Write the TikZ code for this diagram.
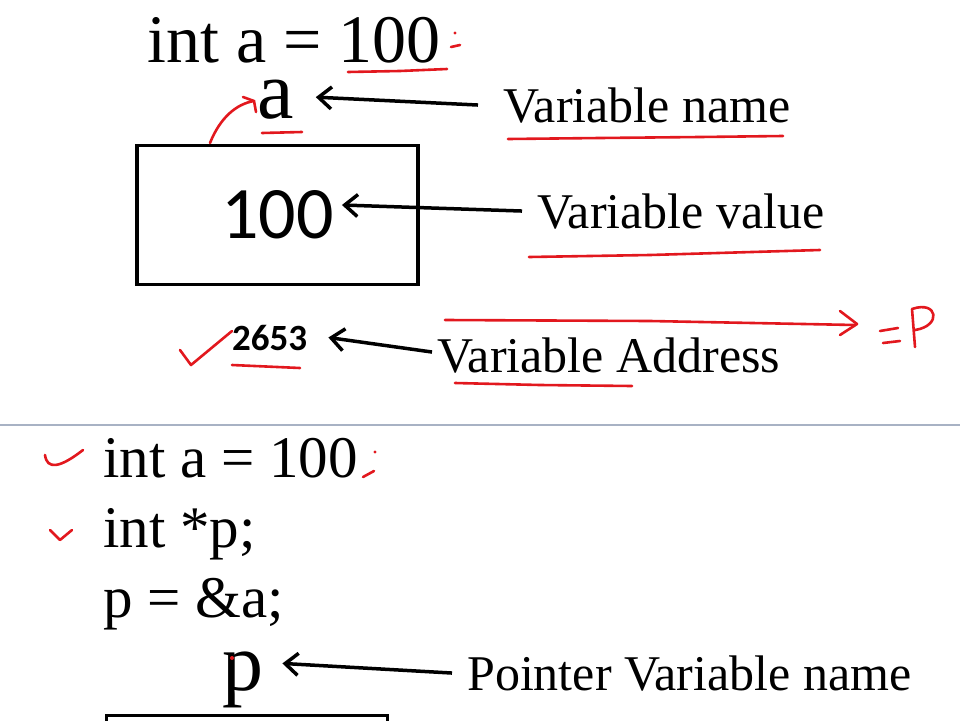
\documentclass[tikz,border=0pt]{standalone}
\usepackage{fontspec}
\setmainfont{Liberation Serif}
\newfontfamily\calibri{Carlito}
\usetikzlibrary{arrows.meta}
\definecolor{penred}{RGB}{226,24,30}
\definecolor{sepgray}{RGB}{168,178,196}

\begin{document}
\begin{tikzpicture}[x=1pt,y=-1pt,
  code/.style={anchor=base west, inner sep=0, font=\fontsize{59}{60}\selectfont},
  bigcode/.style={anchor=base west, inner sep=0, font=\fontsize{68}{70}\selectfont},
  varname/.style={anchor=base west, inner sep=0, font=\fontsize{82}{84}\selectfont},
  caption/.style={anchor=base west, inner sep=0, font=\fontsize{50}{54}\selectfont},
  membox/.style={draw, line width=3.2pt, minimum width=281pt, minimum height=139pt, inner sep=0},
  ptr/.style={line width=3.5pt, -{Straight Barb[length=13pt,width=22pt]}},
  pen/.style={penred, line width=2.6pt, line cap=round, line join=round}]
\useasboundingbox (0,0) rectangle (960,720);
\clip (0,0) rectangle (960,720);

% first half: the variable a
\node[bigcode] (codeA) at (147,62) {int a = 100};
\node[varname] (aname) at (257,118) {a};
\node[membox] (abox) at (277.5,215) {};
\node[inner sep=0, font=\calibri\fontsize{74}{80}\selectfont] (aval) at (abox.center) {100};
\node[inner sep=0, anchor=base west, font=\calibri\bfseries\fontsize{37}{40}\selectfont] (addr) at (232,350) {2653};
\node[caption] (lname) at (503,122) {Variable name};
\node[caption] (lvalue) at (537,228) {Variable value};
\node[caption] (laddr) at (437,372) {Variable Address};

\draw[ptr] ([xshift=-25pt]lname.west) -- ([xshift=22pt,yshift=2pt]aname.east);
\draw[ptr] ([xshift=-15pt]lvalue.west) -- ([xshift=8pt,yshift=10pt]aval.east);
\draw[ptr] ([xshift=-5pt,yshift=3pt]laddr.west) -- ([xshift=21pt]addr.east);

% red pen marks
\draw[pen] (348,72) -- (400,71) -- (447,69);
\fill[penred] (455,33) circle (1.6pt);
\draw[pen] (451,47) -- (460,45);
\draw[pen] (210,143) .. controls (220,118) and (236,104) .. (254,101);
\draw[pen] (243,97) -- (254,101) -- (256,112);
\draw[pen] (262,133) -- (302,132);
\draw[pen] (508,139) -- (600,138) -- (700,137) -- (783,136);
\draw[pen] (529,257) -- (650,255) -- (820,250);
\draw[pen] (180,350) -- (191,365) -- (232,331);
\draw[pen] (232,365) -- (300,368);
\draw[pen] (445,320) -- (650,321) -- (855,325);
\draw[pen] (840,311) -- (857,324) -- (840,335);
\draw[pen] (880,331) -- (898,328);
\draw[pen] (883,343) -- (900,341);
\draw[pen] (915,347) -- (912,309) .. controls (938,300) and (942,326) .. (915,330);
\draw[pen] (455,383) -- (540,385) -- (632,386);

% separator
\draw[sepgray, line width=2pt] (0,425) -- (960,425);

% second half: the pointer p
\node[code] (code1) at (103,477) {int a = 100};
\node[code] (code2) at (103,547) {int *p;};
\node[code] (code3) at (103,617) {p = \&a;};
\node[varname] (pname) at (222,690) {p};
\node[caption] (lpname) at (467,690) {Pointer Variable name};
\node[membox, anchor=north west] (pbox) at (104.5,713.5) {};

\draw[ptr] ([xshift=-15pt]lpname.west) -- ([xshift=19pt,yshift=16pt]pname.east);

\draw[pen] (45,455) .. controls (47,470) and (60,468) .. (83,450);
\fill[penred] (375,452) circle (1.6pt);
\draw[pen] (363,477) -- (374,471);
\draw[pen] (50,530) -- (60,540) -- (72,530);
\fill[penred] (232,658) circle (2pt);
\end{tikzpicture}
\end{document}
